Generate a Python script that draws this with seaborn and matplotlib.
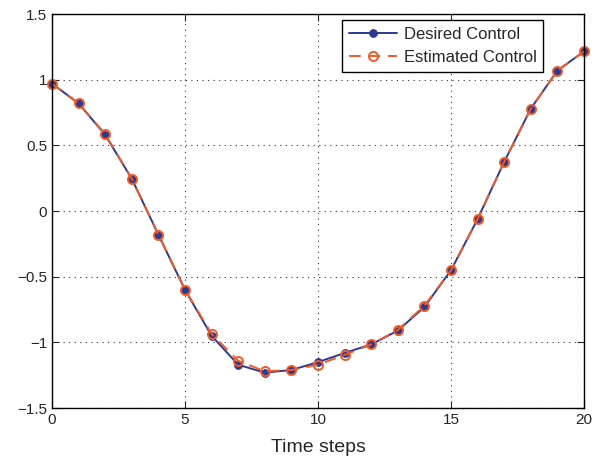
import numpy as np
import pandas as pd
import matplotlib
matplotlib.use("Agg")
import matplotlib.pyplot as plt
import seaborn as sns
from matplotlib.ticker import FuncFormatter

# data
steps = list(range(21))
desired = [0.97, 0.82, 0.58, 0.245, -0.18, -0.60, -0.95, -1.17, -1.23, -1.21,
           -1.15, -1.08, -1.015, -0.91, -0.73, -0.45, -0.06, 0.376, 0.78, 1.07, 1.215]
estimated = [0.97, 0.82, 0.585, 0.245, -0.18, -0.60, -0.935, -1.14, -1.22, -1.21,
             -1.17, -1.095, -1.015, -0.905, -0.72, -0.45, -0.06, 0.376, 0.78, 1.07, 1.215]

sns.set_style("ticks")
plt.rcParams["font.family"] = ["Liberation Sans", "DejaVu Sans"]

df_des = pd.DataFrame({"t": steps, "u": desired})
df_est = pd.DataFrame({"t": steps, "u": estimated})

fig = plt.figure(figsize=(6.07, 4.68), dpi=100)
ax = fig.add_axes([0.0857, 0.128, 0.8765, 0.842])

sns.lineplot(data=df_des, x="t", y="u", ax=ax, color="#2B3990", lw=1.4,
             marker="o", markersize=5.5, markerfacecolor="#2B3990",
             markeredgecolor="#2B3990", label="Desired Control", clip_on=False)
sns.lineplot(data=df_est, x="t", y="u", ax=ax, color="#F05A28", lw=1.4,
             linestyle=(0, (6, 4)), marker="o", markersize=6.5,
             markerfacecolor="none", markeredgecolor="#F05A28", markeredgewidth=1.4,
             label="Estimated Control", clip_on=False)

ax.set_xlim(0, 20)
ax.set_ylim(-1.5, 1.5)
ax.set_xticks([0, 5, 10, 15, 20])
ax.set_yticks([-1.5, -1, -0.5, 0, 0.5, 1, 1.5])
ax.yaxis.set_major_formatter(FuncFormatter(lambda v, p: ("%g" % v).replace("-", "\u2212")))
ax.set_xlabel("Time steps", fontsize=14, labelpad=9)
ax.set_ylabel("")
ax.grid(True, linestyle=(0, (1, 4)), color="black", linewidth=0.8, alpha=0.8)
ax.tick_params(direction="in", top=True, right=True, labelsize=11, length=5, width=0.8)
for sp in ax.spines.values():
    sp.set_visible(True)
    sp.set_linewidth(1.0)
    sp.set_color("black")

leg = ax.legend(loc="upper right", bbox_to_anchor=(0.923, 0.985), fontsize=12,
                fancybox=False, framealpha=1, edgecolor="black", handlelength=2.9,
                handletextpad=0.4, borderpad=0.4, labelspacing=0.5, borderaxespad=0)
leg.get_frame().set_linewidth(1.0)

fig.savefig("out.png", dpi=100)
